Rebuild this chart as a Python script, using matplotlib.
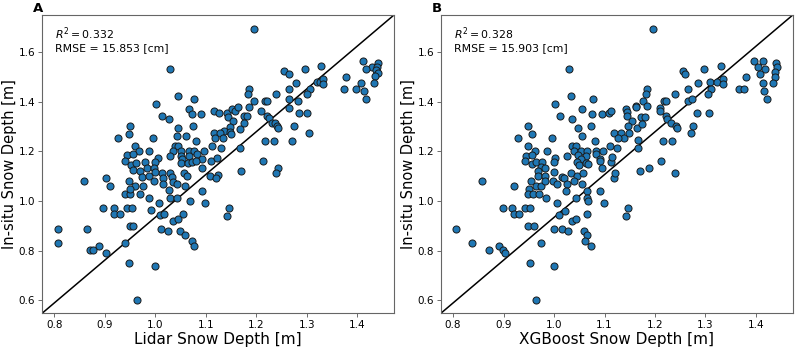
import matplotlib
matplotlib.use("Agg")
import matplotlib.pyplot as plt

# Panel A: lidar snow depth vs in-situ snow depth [m]
lidar_x = [
    1.030, 1.045, 1.077, 1.002, 1.066, 1.073, 1.090, 1.117, 1.013, 1.027,
    0.949, 1.075, 1.046, 0.947, 1.117, 1.044, 1.061, 0.927, 0.995, 1.080,
    0.960, 1.039, 1.046, 1.112, 0.968, 0.988, 1.036, 1.051, 1.066, 1.077,
    1.096, 0.944, 0.955, 1.030, 1.051, 1.066, 1.083, 1.005, 1.053, 1.092,
    0.941, 0.952, 0.962, 0.980, 1.000, 1.051, 1.065, 1.073, 1.081, 1.111,
    0.956, 0.970, 0.984, 0.997, 1.013, 0.974, 0.987, 1.000, 1.030, 1.033,
    1.056, 1.063, 1.092, 1.109, 1.125, 0.858, 0.903, 0.910, 0.947, 0.960,
    0.975, 0.997, 1.016, 1.016, 1.036, 1.043, 1.059, 0.941, 0.950, 0.970,
    0.950, 1.028, 1.092, 0.987, 1.007, 1.030, 1.043, 1.069, 1.098, 0.896,
    0.919, 0.919, 0.931, 0.944, 0.954, 0.992, 1.010, 1.018, 1.055, 1.035,
    1.045, 0.807, 0.865, 0.949, 0.955, 1.012, 1.026, 1.049, 0.807, 0.941,
    0.888, 0.871, 0.876, 0.903, 1.059, 1.073, 1.077, 0.947, 1.000, 0.964,
    1.195, 1.411, 1.442, 1.429, 1.439, 1.417, 1.437, 1.442, 1.436, 1.434,
    1.329, 1.297, 1.255, 1.264, 1.279, 1.320, 1.327, 1.333, 1.333, 1.377,
    1.407, 1.398, 1.373, 1.414, 1.417, 1.307, 1.300, 1.265, 1.239, 1.265,
    1.282, 1.265, 1.186, 1.184, 1.195, 1.217, 1.221, 1.209, 1.284, 1.300,
    1.221, 1.226, 1.231, 1.237, 1.241, 1.243, 1.275, 1.305, 1.217, 1.236,
    1.271, 1.167, 1.213, 1.127, 1.142, 1.145, 1.153, 1.158, 1.163, 1.155,
    1.175, 1.182, 1.175, 1.185, 1.148, 1.167, 1.137, 1.148, 1.150, 1.128,
    1.119, 1.135, 1.130, 1.122, 1.243, 1.240, 1.170, 1.120, 1.147, 1.142,
]
lidar_y = [
    1.531, 1.421, 1.412, 1.392, 1.371, 1.351, 1.351, 1.362, 1.342, 1.331,
    1.302, 1.302, 1.292, 1.271, 1.272, 1.261, 1.263, 1.252, 1.252, 1.242,
    1.221, 1.221, 1.221, 1.221, 1.202, 1.202, 1.202, 1.202, 1.202, 1.202,
    1.202, 1.185, 1.191, 1.182, 1.182, 1.182, 1.191, 1.171, 1.167, 1.167,
    1.160, 1.144, 1.151, 1.158, 1.158, 1.151, 1.151, 1.155, 1.160, 1.160,
    1.124, 1.122, 1.131, 1.131, 1.111, 1.097, 1.100, 1.117, 1.111, 1.097,
    1.111, 1.101, 1.131, 1.101, 1.104, 1.081, 1.091, 1.061, 1.081, 1.061,
    1.061, 1.080, 1.091, 1.070, 1.077, 1.070, 1.061, 1.030, 1.030, 1.030,
    1.050, 1.044, 1.041, 1.010, 0.990, 1.010, 1.010, 1.001, 0.992, 0.970,
    0.970, 0.949, 0.949, 0.970, 0.970, 0.963, 0.943, 0.949, 0.949, 0.920,
    0.929, 0.889, 0.889, 0.898, 0.898, 0.889, 0.880, 0.880, 0.831, 0.831,
    0.819, 0.802, 0.802, 0.791, 0.861, 0.839, 0.819, 0.751, 0.740, 0.600,
    1.693, 1.564, 1.554, 1.541, 1.541, 1.531, 1.527, 1.514, 1.503, 1.474,
    1.544, 1.531, 1.523, 1.511, 1.474, 1.480, 1.480, 1.490, 1.471, 1.501,
    1.474, 1.451, 1.451, 1.441, 1.410, 1.451, 1.431, 1.451, 1.431, 1.410,
    1.402, 1.373, 1.451, 1.431, 1.402, 1.402, 1.402, 1.363, 1.353, 1.353,
    1.342, 1.333, 1.315, 1.315, 1.302, 1.292, 1.302, 1.272, 1.242, 1.242,
    1.242, 1.212, 1.160, 1.353, 1.353, 1.339, 1.369, 1.363, 1.380, 1.323,
    1.342, 1.342, 1.312, 1.380, 1.299, 1.290, 1.283, 1.279, 1.269, 1.272,
    1.252, 1.252, 1.212, 1.175, 1.131, 1.111, 1.120, 1.091, 0.970, 0.940,
]

# Panel B: XGBoost snow depth vs in-situ snow depth [m]
xgb_x = [
    1.030, 1.034, 1.077, 1.002, 1.055, 1.012, 1.036, 1.075, 1.094, 0.949,
    1.074, 1.047, 0.956, 0.928, 0.995, 1.055, 1.081, 0.949, 1.036, 1.044,
    0.962, 0.987, 1.040, 1.053, 1.066, 1.083, 1.096, 0.945, 0.956, 1.026,
    1.048, 1.063, 1.083, 1.002, 1.053, 1.092,
    0.943, 0.956, 0.964, 0.977, 1.000, 1.046, 1.049, 1.063, 1.068, 1.092,
    1.112, 0.974, 0.969, 0.983, 1.000, 0.969, 0.982, 1.016, 1.033, 1.045,
    1.057, 1.094, 1.118, 0.857, 0.921, 0.955, 0.950, 0.964, 0.974, 0.982,
    0.998, 1.005, 1.020, 1.026, 1.040, 1.055, 0.949, 0.959, 0.970, 1.023,
    1.066, 1.092, 0.985, 1.005, 1.043, 1.066, 1.068, 1.098, 0.899, 0.916,
    0.921, 0.931, 0.942, 0.952, 1.009, 1.022, 1.066, 1.035, 1.043, 0.805,
    0.949, 0.960, 1.000, 1.015, 1.028, 1.059, 0.838, 0.975, 0.891, 0.871,
    0.898, 0.903, 1.066, 1.061, 1.073, 0.952, 1.000, 0.964,
    1.197, 1.396, 1.413, 1.404, 1.418, 1.439, 1.441, 1.407, 1.437, 1.437,
    1.434, 1.413, 1.416, 1.421, 1.381, 1.366, 1.376, 1.330, 1.297, 1.255,
    1.259, 1.286, 1.266, 1.308, 1.322, 1.334, 1.334, 1.310, 1.305, 1.239,
    1.265, 1.273, 1.218, 1.221, 1.185, 1.183, 1.177, 1.185, 1.163, 1.210,
    1.210, 1.222, 1.224, 1.231, 1.241, 1.243, 1.276, 1.272, 1.284, 1.307,
    1.215, 1.234, 1.167, 1.212, 1.109, 1.112, 1.142, 1.144, 1.145, 1.162,
    1.173, 1.180, 1.155, 1.147, 1.165, 1.175, 1.118, 1.132, 1.139, 1.127,
    1.148, 1.111, 1.125, 1.114, 1.166,
    1.170, 1.189, 1.240, 1.121, 1.147, 1.143,
]
xgb_y = [
    1.531, 1.421, 1.412, 1.392, 1.371, 1.342, 1.331, 1.351, 1.351, 1.302,
    1.302, 1.292, 1.271, 1.252, 1.252, 1.263, 1.242, 1.221, 1.221, 1.221,
    1.202, 1.202, 1.202, 1.202, 1.202, 1.202, 1.202, 1.182, 1.185, 1.182,
    1.185, 1.182, 1.191, 1.171, 1.167, 1.167,
    1.160, 1.148, 1.158, 1.158, 1.158, 1.158, 1.144, 1.154, 1.148, 1.160,
    1.158, 1.138, 1.122, 1.131, 1.117, 1.101, 1.101, 1.097, 1.111, 1.101,
    1.111, 1.131, 1.091, 1.081, 1.061, 1.081, 1.050, 1.061, 1.061, 1.081,
    1.080, 1.070, 1.091, 1.070, 1.081, 1.070, 1.030, 1.030, 1.030, 1.041,
    1.041, 1.041, 1.010, 0.990, 1.010, 1.010, 1.001, 0.992, 0.970, 0.970,
    0.949, 0.949, 0.970, 0.970, 0.943, 0.960, 0.949, 0.920, 0.929, 0.889,
    0.898, 0.898, 0.889, 0.889, 0.880, 0.880, 0.831, 0.831, 0.819, 0.802,
    0.802, 0.791, 0.861, 0.839, 0.819, 0.751, 0.740, 0.600,
    1.693, 1.564, 1.564, 1.541, 1.531, 1.554, 1.541, 1.511, 1.521, 1.501,
    1.474, 1.474, 1.441, 1.410, 1.501, 1.451, 1.451, 1.544, 1.531, 1.523,
    1.511, 1.474, 1.451, 1.480, 1.480, 1.490, 1.471, 1.451, 1.431, 1.431,
    1.402, 1.410, 1.402, 1.402, 1.451, 1.431, 1.402, 1.382, 1.382, 1.373,
    1.363, 1.342, 1.330, 1.315, 1.302, 1.292, 1.302, 1.272, 1.353, 1.353,
    1.242, 1.242, 1.212, 1.160, 1.353, 1.363, 1.369, 1.359, 1.342, 1.380,
    1.339, 1.339, 1.323, 1.302, 1.292, 1.310, 1.272, 1.272, 1.252, 1.252,
    1.272, 1.221, 1.212, 1.178, 1.245,
    1.120, 1.131, 1.111, 1.111, 0.970, 0.940,
]

panels = [
    ("A", lidar_x, lidar_y, "Lidar Snow Depth [m]", "0.332", "15.853"),
    ("B", xgb_x, xgb_y, "XGBoost Snow Depth [m]", "0.328", "15.903"),
]

x_ticks = [0.8, 0.9, 1.0, 1.1, 1.2, 1.3, 1.4]
y_ticks = [0.6, 0.8, 1.0, 1.2, 1.4, 1.6]

fig = plt.figure(figsize=(7.96, 3.48), dpi=100)
lefts = [0.053, 0.554]

for left, (tag, xs, ys, xlabel, r2, rmse) in zip(lefts, panels):
    ax = fig.add_axes([left, 0.100, 0.442, 0.857])
    ax.scatter(xs, ys, s=26, color="#1f77b4", edgecolors="#1a1a1a",
               linewidths=0.7, zorder=3)
    # 1:1 reference line across the axes
    ax.plot([0, 1], [0, 1], color="black", lw=1.1, transform=ax.transAxes, zorder=2)
    ax.set_xlim(0.776, 1.473)
    ax.set_ylim(0.548, 1.749)
    ax.set_xticks(x_ticks)
    ax.set_yticks(y_ticks)
    ax.tick_params(labelsize=7.5, length=3, width=0.6, color="#555555", pad=2)
    for sp in ax.spines.values():
        sp.set_color("#666666")
        sp.set_linewidth(0.8)
    ax.set_xlabel(xlabel, fontsize=11, labelpad=1)
    ax.set_ylabel("In-situ Snow Depth [m]", fontsize=10.5, labelpad=1)
    ax.text(0.037, 0.965, f"$R^2 = ${r2}\nRMSE = {rmse} [cm]",
            transform=ax.transAxes, va="top", ha="left", fontsize=7.8,
            linespacing=1.1)
    fig.text(left - 0.012, 0.995, tag, fontsize=9.5, fontweight="bold",
             va="top", ha="left")

fig.savefig("out.png", dpi=100)
